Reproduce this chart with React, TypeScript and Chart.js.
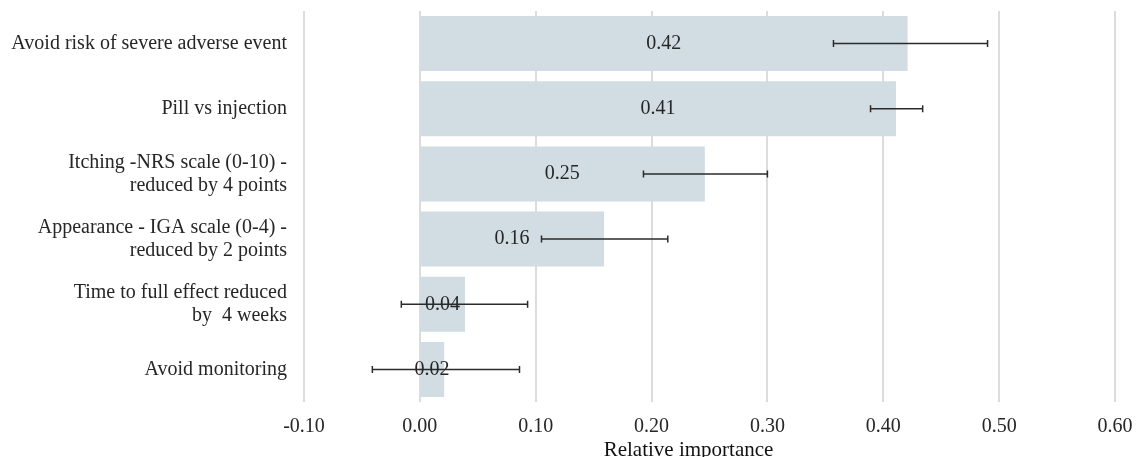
import React, { useEffect, useRef } from "react";
import { Chart, registerables } from "chart.js";

Chart.register(...registerables);

const categories: (string | string[])[] = [
  "Avoid risk of severe adverse event",
  "Pill vs injection",
  ["Itching -NRS scale (0-10) -", "reduced by 4 points"],
  ["Appearance - IGA scale (0-4) -", "reduced by 2 points"],
  ["Time to full effect reduced", "by  4 weeks"],
  "Avoid monitoring",
];
const values = [0.421, 0.411, 0.246, 0.159, 0.039, 0.021];
const valueLabels = ["0.42", "0.41", "0.25", "0.16", "0.04", "0.02"];
const errLow = [0.357, 0.389, 0.193, 0.105, -0.016, -0.041];
const errHigh = [0.49, 0.434, 0.3, 0.214, 0.093, 0.086];
const xMin = -0.1;
const xMax = 0.6;
const xStep = 0.1;
const axisTitle = "Relative importance";

const FONT = "'Liberation Serif', 'Times New Roman', serif";
const TEXT = "#262626";

const overlayPlugin = {
  id: "overlay",
  afterDatasetsDraw(chart: any) {
    const { ctx, scales, chartArea } = chart;
    const x = scales.x;
    const meta = chart.getDatasetMeta(0);
    ctx.save();
    // value labels
    ctx.font = `20px ${FONT}`;
    ctx.fillStyle = TEXT;
    ctx.textAlign = "center";
    ctx.textBaseline = "middle";
    meta.data.forEach((bar: any, i: number) => {
      const cx = (x.getPixelForValue(0) + x.getPixelForValue(values[i])) / 2;
      ctx.fillText(valueLabels[i], cx, bar.y);
    });
    // error bars
    ctx.strokeStyle = "#2b2b2b";
    ctx.lineWidth = 1.5;
    meta.data.forEach((bar: any, i: number) => {
      const x1 = x.getPixelForValue(errLow[i]);
      const x2 = x.getPixelForValue(errHigh[i]);
      const y = bar.y;
      ctx.beginPath();
      ctx.moveTo(x1, y);
      ctx.lineTo(x2, y);
      ctx.moveTo(x1, y - 3.5);
      ctx.lineTo(x1, y + 3.5);
      ctx.moveTo(x2, y - 3.5);
      ctx.lineTo(x2, y + 3.5);
      ctx.stroke();
    });
    // axis title
    ctx.font = `21px ${FONT}`;
    ctx.fillStyle = "#111111";
    ctx.textBaseline = "alphabetic";
    const tx = (chartArea.left + chartArea.right) / 2 - 21;
    ctx.fillText(axisTitle, tx, chartArea.bottom + 54);
    ctx.restore();
  },
};

export default function App() {
  const ref = useRef<HTMLCanvasElement>(null);
  useEffect(() => {
    if (!ref.current) return;
    const chart = new Chart(ref.current, {
      type: "bar",
      data: {
        labels: categories as any,
        datasets: [
          {
            data: values,
            backgroundColor: "#d1dde2",
            borderWidth: 0,
            categoryPercentage: 0.845,
            barPercentage: 1,
          },
        ],
      },
      options: {
        indexAxis: "y",
        animation: false,
        responsive: false,
        maintainAspectRatio: false,
        layout: { padding: { top: 11, right: 21, bottom: 0, left: 0 } },
        plugins: {
          legend: { display: false },
          tooltip: { enabled: false },
        },
        scales: {
          x: {
            min: xMin,
            max: xMax,
            border: { display: false },
            grid: { color: "#dcdcdc", lineWidth: 2, drawTicks: false },
            ticks: {
              stepSize: xStep,
              padding: 13,
              color: TEXT,
              font: { family: FONT, size: 20 },
              callback: (v: any) => {
                const r = Math.round(Number(v) * 100) / 100;
                return (Math.abs(r) < 1e-9 ? 0 : r).toFixed(2);
              },
            },
            afterFit: (s: any) => {
              s.height = 55;
              s.paddingLeft = 0;
              s.paddingRight = 0;
            },
          },
          y: {
            border: { display: false },
            grid: { display: false, drawTicks: false },
            ticks: {
              padding: 17,
              color: TEXT,
              font: { family: FONT, size: 20, lineHeight: 1.15 },
            },
            afterFit: (s: any) => {
              s.width = 304;
              s.paddingTop = 0;
              s.paddingBottom = 0;
            },
          },
        },
      },
      plugins: [overlayPlugin],
    });
    return () => chart.destroy();
  }, []);
  return (
    <div style={{ position: "absolute", left: 0, top: 0, width: 1136, height: 457, background: "#fff" }}>
      <canvas ref={ref} width={1136} height={457} />
    </div>
  );
}
